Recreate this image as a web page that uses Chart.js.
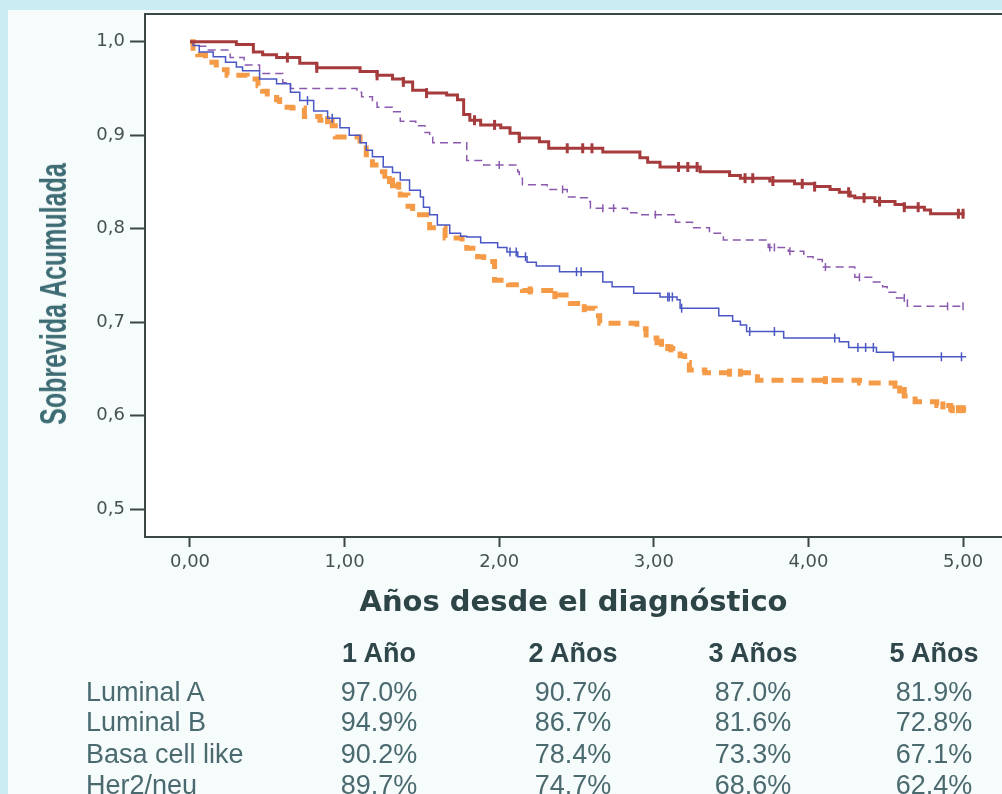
<!DOCTYPE html>
<html>
<head>
<meta charset="utf-8">
<script src="https://cdn.jsdelivr.net/npm/chart.js@4.4.1/dist/chart.umd.min.js"></script>
<style>
  html, body { margin: 0; padding: 0; }
  body {
    width: 1002px; height: 794px; position: relative; overflow: hidden;
    background: #c9edf3;
    font-family: 'Liberation Sans', Arial, sans-serif;
  }
  #panel { position: absolute; left: 8px; top: 10px; right: 0; bottom: 0; background: #f6fbfb; }
  #survChart { position: absolute; left: 0; top: 0; }
  #yTitle {
    position: absolute; left: 54px; top: 294px;
    transform: translate(-50%, -50%) rotate(-90deg) scaleY(1.45);
    font-size: 25px; font-weight: bold; line-height: 1; white-space: nowrap;
    color: #3d6b73;
  }
  .cell {
    position: absolute; font-size: 27px; line-height: 1; white-space: nowrap;
    color: #4a6a6f;
  }
  .head { font-weight: bold; color: #2f464a; }
  .num { transform: translateX(-50%); }
</style>
</head>
<body>
<div id="panel"></div>
<canvas id="survChart" width="1002" height="794"></canvas>
<div id="yTitle">Sobrevida Acumulada</div>
<div id="table"></div>
<script>
// ticks
var xTicks = [0, 1, 2, 3, 4, 5];
var yTicks = [0.5, 0.6, 0.7, 0.8, 0.9, 1.0];

// Luminal A
var lumATime = [0, 0.30, 0.41, 0.47, 0.56, 0.71, 0.82, 1.10, 1.21, 1.31, 1.38, 1.44, 1.53, 1.66, 1.73, 1.77, 1.81, 1.88, 2.01, 2.07, 2.13, 2.26, 2.32, 2.67, 2.91, 2.96, 3.04, 3.30, 3.49, 3.56, 3.75, 3.91, 4.04, 4.14, 4.20, 4.27, 4.30, 4.43, 4.56, 4.62, 4.75, 4.79, 5.01];
var lumASurv = [1.000, 0.997, 0.989, 0.986, 0.983, 0.977, 0.972, 0.968, 0.964, 0.960, 0.957, 0.948, 0.945, 0.943, 0.938, 0.922, 0.916, 0.911, 0.908, 0.902, 0.897, 0.893, 0.886, 0.882, 0.876, 0.871, 0.866, 0.861, 0.857, 0.854, 0.851, 0.848, 0.845, 0.842, 0.839, 0.835, 0.833, 0.829, 0.826, 0.823, 0.820, 0.816, 0.816];
var lumACens = [0.63, 0.82, 1.21, 1.38, 1.53, 1.84, 1.97, 2.13, 2.44, 2.54, 2.60, 3.16, 3.22, 3.28, 3.59, 3.64, 3.77, 3.96, 4.04, 4.26, 4.36, 4.46, 4.62, 4.71, 4.97, 5.00];

// Luminal B
var lumBTime = [0, 0.06, 0.11, 0.26, 0.35, 0.45, 0.60, 0.65, 1.08, 1.11, 1.18, 1.21, 1.31, 1.36, 1.46, 1.52, 1.55, 1.57, 1.79, 1.90, 2.12, 2.13, 2.15, 2.31, 2.44, 2.52, 2.57, 2.59, 2.83, 2.89, 3.14, 3.25, 3.36, 3.45, 3.74, 3.87, 3.97, 4.03, 4.09, 4.30, 4.42, 4.48, 4.51, 4.57, 4.64, 5.01];
var lumBSurv = [1.000, 0.995, 0.991, 0.983, 0.975, 0.966, 0.956, 0.950, 0.946, 0.941, 0.935, 0.930, 0.925, 0.915, 0.910, 0.903, 0.898, 0.892, 0.873, 0.868, 0.861, 0.854, 0.847, 0.842, 0.834, 0.833, 0.829, 0.822, 0.817, 0.815, 0.807, 0.801, 0.795, 0.788, 0.780, 0.776, 0.770, 0.767, 0.759, 0.748, 0.743, 0.738, 0.732, 0.726, 0.717, 0.717];
var lumBCens = [2.00, 2.41, 2.67, 2.74, 3.01, 3.75, 3.78, 3.88, 4.11, 4.33, 4.62, 4.90, 5.00];

// Basa cell like
var basalTime = [0, 0.02, 0.06, 0.15, 0.23, 0.30, 0.34, 0.45, 0.56, 0.65, 0.71, 0.80, 0.89, 0.97, 1.03, 1.10, 1.14, 1.18, 1.25, 1.31, 1.36, 1.42, 1.49, 1.51, 1.55, 1.60, 1.68, 1.75, 1.79, 1.88, 1.99, 2.05, 2.12, 2.18, 2.24, 2.39, 2.67, 2.73, 2.87, 3.04, 3.15, 3.17, 3.42, 3.51, 3.56, 3.60, 3.84, 4.20, 4.26, 4.44, 4.55, 5.02];
var basalSurv = [1.000, 0.996, 0.989, 0.984, 0.978, 0.973, 0.969, 0.960, 0.955, 0.946, 0.937, 0.926, 0.918, 0.908, 0.900, 0.892, 0.884, 0.877, 0.866, 0.860, 0.852, 0.841, 0.834, 0.823, 0.815, 0.804, 0.795, 0.792, 0.791, 0.785, 0.780, 0.775, 0.770, 0.764, 0.760, 0.754, 0.743, 0.738, 0.731, 0.727, 0.724, 0.715, 0.707, 0.701, 0.697, 0.690, 0.683, 0.679, 0.673, 0.668, 0.663, 0.663];
var basalCens = [0.76, 0.92, 2.07, 2.11, 2.17, 2.50, 2.53, 3.09, 3.10, 3.12, 3.18, 3.62, 3.78, 4.17, 4.32, 4.37, 4.42, 4.55, 4.86, 4.99];

// Her2/neu
var her2Time = [0, 0.02, 0.05, 0.10, 0.17, 0.24, 0.37, 0.44, 0.47, 0.50, 0.56, 0.58, 0.66, 0.74, 0.84, 0.92, 0.94, 1.10, 1.14, 1.18, 1.22, 1.26, 1.31, 1.36, 1.41, 1.44, 1.55, 1.65, 1.76, 1.79, 1.83, 1.86, 1.90, 1.97, 2.06, 2.15, 2.36, 2.46, 2.54, 2.62, 2.65, 2.89, 2.95, 3.02, 3.09, 3.17, 3.20, 3.23, 3.33, 3.67, 4.33, 4.56, 4.62, 4.69, 4.83, 4.92, 5.02];
var her2Surv = [1.000, 0.993, 0.986, 0.978, 0.970, 0.964, 0.960, 0.953, 0.947, 0.944, 0.938, 0.930, 0.929, 0.920, 0.916, 0.910, 0.898, 0.890, 0.879, 0.868, 0.861, 0.852, 0.846, 0.836, 0.824, 0.815, 0.801, 0.790, 0.786, 0.779, 0.774, 0.770, 0.765, 0.745, 0.740, 0.734, 0.729, 0.720, 0.715, 0.707, 0.699, 0.693, 0.683, 0.678, 0.672, 0.664, 0.657, 0.649, 0.646, 0.638, 0.635, 0.628, 0.621, 0.615, 0.611, 0.607, 0.607];
var her2Cens = [0.89, 1.29, 1.35, 2.20, 2.36, 2.55, 3.05, 3.11, 3.49, 3.56, 4.11, 4.59, 4.87, 4.93, 4.97, 5.00];

// table under the chart
var tableYears = ['1 Año', '2 Años', '3 Años', '5 Años'];
var groupNames = ['Luminal A', 'Luminal B', 'Basa cell like', 'Her2/neu'];
var lumARates = ['97.0%', '90.7%', '87.0%', '81.9%'];
var lumBRates = ['94.9%', '86.7%', '81.6%', '72.8%'];
var basalRates = ['90.2%', '78.4%', '73.3%', '67.1%'];
var her2Rates = ['89.7%', '74.7%', '68.6%', '62,4%'];

var axisColor = '#3b4747';
var tickColor = '#465151';

function steps(times, surv) {
    return times.map(function(t, i) { return {x: t, y: surv[i]}; });
}

// censored cases sit on the curve at their time
function censored(times, surv, cens) {
    return cens.map(function(c) {
        var s = surv[0];
        for (var i = 0; i < times.length; i++) {
            if (times[i] <= c) s = surv[i];
        }
        return {x: c, y: s};
    });
}

function curve(label, times, surv, color, width, dash, order) {
    return {
        label: label,
        data: steps(times, surv),
        borderColor: color,
        borderWidth: width,
        borderDash: dash,
        borderCapStyle: 'butt',
        stepped: 'before',
        pointRadius: 0,
        fill: false,
        order: order
    };
}

function marks(label, times, surv, cens, color, width, size, order) {
    return {
        label: label + ' (censurados)',
        data: censored(times, surv, cens),
        showLine: false,
        pointStyle: 'line',
        rotation: 90,
        pointRadius: size,
        pointHoverRadius: size,
        borderColor: color,
        pointBorderColor: color,
        pointBorderWidth: width,
        order: order
    };
}

var frame = {
    id: 'frame',
    beforeDraw: function(chart) {
        var a = chart.chartArea, ctx = chart.ctx;
        ctx.save();
        ctx.fillStyle = '#ffffff';
        ctx.fillRect(a.left, a.top, a.right - a.left, a.bottom - a.top);
        ctx.restore();
    },
    afterDraw: function(chart) {
        var a = chart.chartArea, ctx = chart.ctx;
        ctx.save();
        ctx.strokeStyle = axisColor;
        ctx.lineWidth = 2;
        ctx.beginPath();
        ctx.moveTo(a.left, a.top);
        ctx.lineTo(a.right, a.top);
        ctx.stroke();
        ctx.restore();
    }
};

var survChart = new Chart(document.getElementById('survChart'), {
    type: 'line',
    data: {
        datasets: [
            curve('Luminal A', lumATime, lumASurv, '#a53b3d', 3, [], 1),
            marks('Luminal A', lumATime, lumASurv, lumACens, '#a53b3d', 3, 5, 0),
            curve('Basa cell like', basalTime, basalSurv, '#4a57c4', 1.5, [], 3),
            marks('Basa cell like', basalTime, basalSurv, basalCens, '#4a57c4', 1.5, 4.5, 2),
            curve('Luminal B', lumBTime, lumBSurv, '#8b5aae', 1.5, [8, 5], 5),
            marks('Luminal B', lumBTime, lumBSurv, lumBCens, '#8b5aae', 1.5, 4, 4),
            curve('Her2/neu', her2Time, her2Surv, '#f59b48', 5, [12, 8], 7),
            marks('Her2/neu', her2Time, her2Surv, her2Cens, '#f59b48', 5, 4, 6)
        ]
    },
    options: {
        responsive: false,
        animation: false,
        layout: {
            autoPadding: false,
            padding: {top: 14, left: 0, right: 0, bottom: 0}
        },
        plugins: {
            legend: {display: false},
            tooltip: {enabled: false}
        },
        scales: {
            x: {
                type: 'linear',
                min: -0.291,
                max: 5.252,
                afterFit: function(scale) {
                    scale.height = 257;
                    scale.paddingLeft = 0;
                    scale.paddingRight = 0;
                },
                afterBuildTicks: function(scale) {
                    scale.ticks = xTicks.map(function(v) { return {value: v}; });
                },
                grid: {
                    drawOnChartArea: false,
                    tickLength: 10,
                    tickWidth: 2,
                    tickColor: axisColor
                },
                border: {display: true, color: axisColor, width: 2},
                ticks: {
                    autoSkip: false,
                    maxRotation: 0,
                    padding: 5,
                    color: tickColor,
                    font: {family: 'DejaVu Sans', size: 18},
                    callback: function(v) { return v.toFixed(2).replace('.', ','); }
                },
                title: {
                    display: true,
                    text: 'Años desde el diagnóstico',
                    color: '#2e4548',
                    font: {family: 'DejaVu Sans', size: 29, weight: 'bold'},
                    padding: {top: 0, bottom: 173}
                }
            },
            y: {
                min: 0.4703,
                max: 1.0296,
                afterFit: function(scale) {
                    scale.width = 145;
                    scale.paddingTop = 0;
                    scale.paddingBottom = 0;
                },
                afterBuildTicks: function(scale) {
                    scale.ticks = yTicks.map(function(v) { return {value: v}; });
                },
                grid: {
                    drawOnChartArea: false,
                    tickLength: 15,
                    tickWidth: 2,
                    tickColor: axisColor
                },
                border: {display: true, color: axisColor, width: 2},
                ticks: {
                    padding: 5,
                    color: tickColor,
                    font: {family: 'DejaVu Sans', size: 18},
                    callback: function(v) { return v.toFixed(1).replace('.', ','); }
                }
            }
        }
    },
    plugins: [frame]
});

// survival table
var table = document.getElementById('table');
var colCenters = [379, 573, 753, 934];
var rowTops = [679, 709, 741, 772];
var rates = [lumARates, lumBRates, basalRates, her2Rates];

function addCell(text, left, top, cls) {
    var d = document.createElement('div');
    d.className = 'cell ' + cls;
    d.style.left = left + 'px';
    d.style.top = top + 'px';
    d.textContent = text;
    table.appendChild(d);
}

tableYears.forEach(function(y, j) {
    addCell(y, colCenters[j], 640, 'head num');
});
groupNames.forEach(function(name, i) {
    addCell(name, 86, rowTops[i], '');
    rates[i].forEach(function(r, j) {
        addCell(r, colCenters[j], rowTops[i], 'num');
    });
});
</script>
</body>
</html>
